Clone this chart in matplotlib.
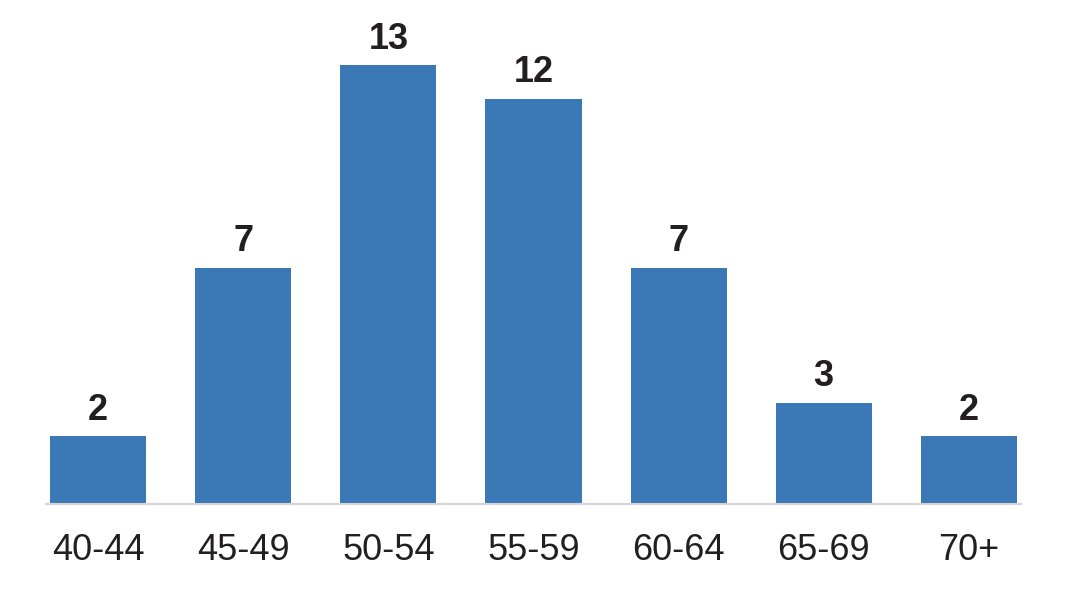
import numpy as np
import matplotlib.pyplot as plt

plt.rcParams['font.family'] = ['Liberation Sans', 'DejaVu Sans']

# age groups and counts
age_groups = ['40-44', '45-49', '50-54', '55-59', '60-64', '65-69', '70+']
counts = [2, 7, 13, 12, 7, 3, 2]

bar_color = '#3B78B6'
text_color = '#231F20'

fig = plt.figure(figsize=(10.67, 6.10), dpi=100)
ax = fig.add_axes([46 / 1067, 0.1738, 975 / 1067, 0.775])

x = np.arange(len(age_groups))
bars = ax.bar(x, counts, width=0.662, color=bar_color)

# value labels on top of each bar
for rect, val in zip(bars, counts):
    ax.annotate(str(val), (rect.get_x() + rect.get_width() / 2, rect.get_height()),
                xytext=(0, 6), textcoords='offset points', ha='center', va='bottom',
                fontsize=26, fontweight='bold', color=text_color)

ax.set_xlim(-0.36, 6.36)
ax.set_ylim(0, 14)
ax.set_xticks(x)
ax.set_xticklabels(age_groups, fontsize=26, color=text_color)
ax.tick_params(axis='x', length=0, pad=21)
ax.set_yticks([])

for side in ['top', 'right', 'left']:
    ax.spines[side].set_visible(False)
ax.spines['bottom'].set_color('#D4D4D4')
ax.spines['bottom'].set_linewidth(1.5)

fig.savefig('out.png', dpi=100)
